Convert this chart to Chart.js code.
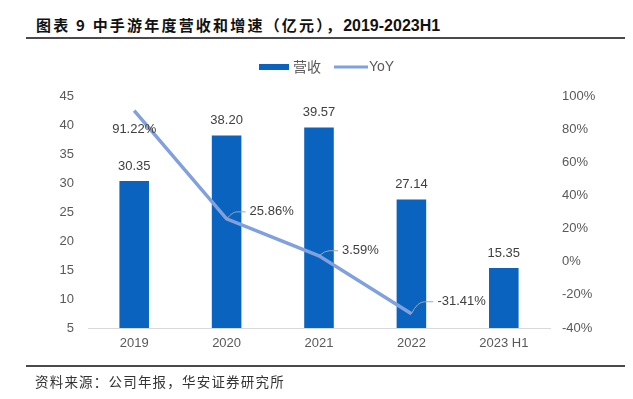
<!DOCTYPE html>
<html>
<head>
<meta charset="utf-8">
<script src="https://cdn.jsdelivr.net/npm/chart.js@4.4.0/dist/chart.umd.min.js"></script>
<style>
  html, body { margin: 0; padding: 0; background: #fff; }
  #wrap { position: relative; width: 633px; height: 399px; overflow: hidden; }
  #myChart { position: absolute; left: 0; top: 0; }
  .title { position: absolute; left: 36px; top: 15px; line-height: 20px; color: #111;
    font-family: "Noto Sans CJK SC", sans-serif; font-weight: bold; font-size: 15px; white-space: nowrap;
    letter-spacing: 2.2px; }
  .title .num { font-family: "Liberation Sans", Arial, sans-serif; font-size: 16px; letter-spacing: 0; }
  .rule { position: absolute; left: 26px; width: 599px; height: 0; border-top: 2px solid #4a4a4a; }
  .source { position: absolute; left: 35px; top: 372px; line-height: 18px; color: #333;
    font-family: "Noto Sans CJK SC", sans-serif; font-size: 13.5px; letter-spacing: 1.2px; white-space: nowrap; }
</style>
</head>
<body>
<div id="wrap">
  <div class="title">图表 9 中手游年度营收和增速（亿元），<span class="num">2019-2023H1</span></div>
  <div class="rule" style="top:37px"></div>
  <canvas id="myChart" width="633" height="399"></canvas>
  <div class="rule" style="top:365px"></div>
  <div class="source">资料来源：公司年报，华安证券研究所</div>
</div>
<script>
// 数据
const years = ['2019', '2020', '2021', '2022', '2023 H1'];
const revenue = [30.35, 38.20, 39.57, 27.14, 15.35];   // 营收（亿元）
const yoy = [91.22, 25.86, 3.59, -31.41, null];          // YoY (%)
const leftTicks = [5, 45, 5];      // min, max, step
const rightTicks = [-40, 100, 20]; // min, max, step

const barColor = '#0a63be';
const lineColor = '#80a0de';
const textFont = '"Liberation Sans", Arial, sans-serif';

// 折线标签偏移 [dx, dy, leader]
const yoyLabelPos = [[0, 19, false], [23, -7, true], [23, -5, true], [26, -12, true]];

const labelPlugin = {
  id: 'valueLabels',
  afterDatasetsDraw(chart) {
    const ctx = chart.ctx;
    ctx.save();
    ctx.font = '13px ' + textFont;
    ctx.fillStyle = '#404040';
    // bar labels
    chart.getDatasetMeta(1).data.forEach((bar, i) => {
      ctx.textAlign = 'center';
      ctx.textBaseline = 'middle';
      ctx.fillText(revenue[i].toFixed(2), bar.x, bar.y - 15);
    });
    // line labels
    chart.getDatasetMeta(0).data.forEach((pt, i) => {
      if (yoy[i] == null) return;
      const [dx, dy, leader] = yoyLabelPos[i];
      const txt = yoy[i].toFixed(2) + '%';
      if (leader) {
        const tx = pt.x + dx, ty = pt.y + dy;
        ctx.strokeStyle = '#a6a6a6';
        ctx.lineWidth = 1;
        ctx.beginPath();
        ctx.moveTo(pt.x, pt.y);
        ctx.quadraticCurveTo(pt.x + 6, ty, tx - 13, ty);
        ctx.lineTo(tx - 4, ty);
        ctx.stroke();
        ctx.textAlign = 'left';
        ctx.textBaseline = 'middle';
        ctx.fillText(txt, tx, ty);
      } else {
        ctx.textAlign = 'center';
        ctx.textBaseline = 'middle';
        ctx.fillText(txt, pt.x + dx, pt.y + dy);
      }
    });
    ctx.restore();
  }
};

const legendPlugin = {
  id: 'topLegend',
  afterDraw(chart) {
    const ctx = chart.ctx;
    const ds = chart.data.datasets;
    ctx.save();
    ctx.font = '14px "Noto Sans CJK SC", ' + textFont;
    ctx.fillStyle = '#595959';
    ctx.textBaseline = 'middle';
    // 营收
    ctx.fillStyle = ds[1].backgroundColor;
    ctx.fillRect(259, 64, 30, 6);
    ctx.fillStyle = '#595959';
    ctx.fillText(ds[1].label, 293, 67);
    // YoY
    ctx.strokeStyle = ds[0].borderColor;
    ctx.lineWidth = 3;
    ctx.beginPath();
    ctx.moveTo(334, 67);
    ctx.lineTo(368, 67);
    ctx.stroke();
    ctx.font = '14px ' + textFont;
    ctx.fillText(ds[0].label, 369, 67);
    ctx.restore();
  }
};

const ctx = document.getElementById('myChart').getContext('2d');
const myChart = new Chart(ctx, {
  data: {
    labels: years,
    datasets: [
      {
        type: 'line',
        label: 'YoY',
        data: yoy,
        yAxisID: 'y1',
        borderColor: lineColor,
        backgroundColor: lineColor,
        borderWidth: 3.5,
        pointRadius: 0,
        tension: 0,
        order: 0,
      },
      {
        type: 'bar',
        label: '营收',
        data: revenue,
        yAxisID: 'y',
        backgroundColor: barColor,
        barPercentage: 0.32,
        categoryPercentage: 1,
        order: 1,
      },
    ],
  },
  options: {
    responsive: false,
    animation: false,
    devicePixelRatio: 1,
    layout: { padding: { top: 96, left: 0, right: 0, bottom: 0 } },
    plugins: { legend: { display: false }, tooltip: { enabled: false } },
    scales: {
      x: {
        grid: { display: false, drawTicks: false },
        border: { display: true, color: '#d9d9d9', width: 1 },
        ticks: { color: '#595959', font: { size: 13, family: textFont }, padding: 8 },
        afterFit(scale) { scale.height = 71; },
      },
      y: {
        position: 'left',
        min: leftTicks[0], max: leftTicks[1],
        ticks: { stepSize: leftTicks[2], color: '#595959', font: { size: 13, family: textFont }, padding: 14 },
        grid: { display: false, drawTicks: false },
        border: { display: false },
        afterFit(scale) { scale.width = 88; },
      },
      y1: {
        position: 'right',
        min: rightTicks[0], max: rightTicks[1],
        ticks: { stepSize: rightTicks[2], color: '#595959', font: { size: 13, family: textFont }, padding: 12,
          callback: v => v + '%' },
        grid: { display: false, drawTicks: false },
        border: { display: false },
        afterFit(scale) { scale.width = 83; },
      },
    },
  },
  plugins: [labelPlugin, legendPlugin],
});
</script>
</body>
</html>
